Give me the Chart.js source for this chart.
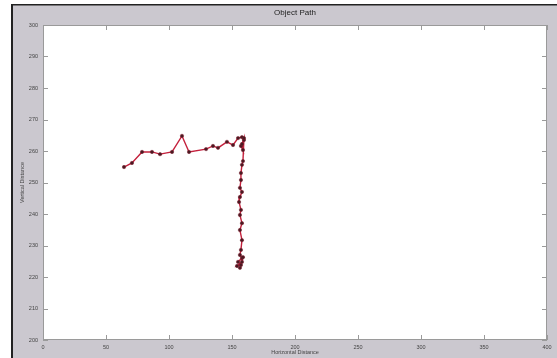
<!DOCTYPE html>
<html><head><meta charset="utf-8">
<script src="https://cdn.jsdelivr.net/npm/chart.js@4"></script>
<style>html,body{margin:0;padding:0;background:#fff}#wrap{width:557px;height:358px}</style>
</head><body><div id="wrap"><canvas id="c" width="557" height="358"></canvas></div>
<script>
const chartTitle = "Object Path";
const xAxisTitle = "Horizontal Distance";
const yAxisTitle = "Vertical Distance";
const xTicks = [0, 50, 100, 150, 200, 250, 300, 350, 400];
const yTicks = [200, 210, 220, 230, 240, 250, 260, 270, 280, 290, 300];
const pathX = [64.3, 70.6, 78.6, 86.5, 92.9, 102.4, 110.3, 115.9, 129.4, 134.9, 138.9, 146.0, 150.8, 154.8,
  157.9, 159.5, 157.1, 158.7, 157.9, 159.5, 158.7, 157.9, 157.1, 157.1, 156.3, 157.9, 156.3, 155.6,
  157.1, 156.3, 157.9, 156.3, 157.9, 157.1, 156.3, 157.9, 154.8, 157.1, 154.0, 157.9, 156.3, 158.7];
const pathY = [254.9, 256.2, 259.7, 259.7, 259.0, 259.7, 264.8, 259.7, 260.6, 261.6, 261.0, 262.9, 261.9, 264.1,
  264.4, 263.5, 261.6, 260.3, 262.2, 264.1, 256.8, 255.6, 253.0, 250.8, 248.3, 247.0, 245.4, 243.8,
  241.3, 239.7, 237.1, 234.9, 231.7, 228.6, 227.0, 226.0, 224.8, 223.8, 223.5, 224.8, 222.9, 226.3];

const points = pathX.map((x, i) => ({x: x, y: pathY[i]}));

const frame = {
  id: 'frame',
  beforeDraw(chart) {
    const ctx = chart.ctx, a = chart.chartArea;
    ctx.save();
    ctx.fillStyle = '#ffffff';
    ctx.fillRect(0, 0, chart.width, chart.height);
    ctx.fillStyle = '#cbc8cf';
    ctx.fillRect(12, 5, chart.width - 12, chart.height - 5);
    ctx.fillStyle = '#222';
    ctx.fillRect(11, 4, 2, chart.height - 4);
    ctx.fillRect(11, 4, chart.width - 11, 1.5);
    ctx.fillStyle = '#ffffff';
    ctx.fillRect(a.left, a.top, a.right - a.left, a.bottom - a.top);
    ctx.restore();
  },
  afterDatasetsDraw(chart) {
    const ctx = chart.ctx, a = chart.chartArea;
    const xs = chart.scales.x, ys = chart.scales.y;
    ctx.save();
    ctx.strokeStyle = '#9a9a9a';
    ctx.lineWidth = 1;
    ctx.strokeRect(a.left + 0.5, a.top + 0.5, a.right - a.left - 1, a.bottom - a.top - 1);
    ctx.beginPath();
    xTicks.forEach(v => {
      const px = Math.round(xs.getPixelForValue(v)) + 0.5;
      ctx.moveTo(px, a.bottom); ctx.lineTo(px, a.bottom - 5);
      ctx.moveTo(px, a.top); ctx.lineTo(px, a.top + 5);
    });
    yTicks.forEach(v => {
      const py = Math.round(ys.getPixelForValue(v)) + 0.5;
      ctx.moveTo(a.left, py); ctx.lineTo(a.left + 5, py);
      ctx.moveTo(a.right, py); ctx.lineTo(a.right - 5, py);
    });
    ctx.stroke();
    ctx.fillStyle = '#222';
    ctx.font = '8px "Liberation Sans", Arial, sans-serif';
    ctx.textAlign = 'center';
    ctx.textBaseline = 'middle';
    ctx.fillText(chartTitle, (a.left + a.right) / 2, 13);
    ctx.font = '5.5px "Liberation Sans", Arial, sans-serif';
    ctx.fillStyle = '#444';
    ctx.fillText(xAxisTitle, (a.left + a.right) / 2, 352);
    ctx.translate(22, (a.top + a.bottom) / 2);
    ctx.rotate(-Math.PI / 2);
    ctx.fillText(yAxisTitle, 0, 0);
    ctx.restore();
  }
};

new Chart(document.getElementById('c'), {
  type: 'scatter',
  data: {
    datasets: [{
      data: points,
      showLine: true,
      borderColor: '#c4203c',
      borderWidth: 1.4,
      pointRadius: 1.7,
      pointBackgroundColor: '#4a1a22',
      pointBorderColor: '#7a1a2c',
      pointBorderWidth: 0.5,
      tension: 0
    }]
  },
  options: {
    responsive: false,
    animation: false,
    devicePixelRatio: 1,
    layout: { padding: { left: 0, top: 25, right: 10, bottom: 0 } },
    plugins: { legend: { display: false }, tooltip: { enabled: false }, title: { display: false } },
    scales: {
      x: {
        type: 'linear', min: 0, max: 400,
        afterBuildTicks(s) { s.ticks = xTicks.map(v => ({value: v})); },
        afterFit(s) { s.height = 18; },
        grid: { display: false, drawTicks: false },
        border: { display: false },
        ticks: { color: '#444', font: { size: 5.5, family: '"Liberation Sans", Arial' }, padding: 4, maxRotation: 0, autoSkip: false }
      },
      y: {
        type: 'linear', min: 200, max: 300,
        afterBuildTicks(s) { s.ticks = yTicks.map(v => ({value: v})); },
        afterFit(s) { s.width = 43; },
        grid: { display: false, drawTicks: false },
        border: { display: false },
        ticks: { color: '#444', font: { size: 5.5, family: '"Liberation Sans", Arial' }, padding: 5, autoSkip: false }
      }
    }
  },
  plugins: [frame]
});
</script></body></html>
